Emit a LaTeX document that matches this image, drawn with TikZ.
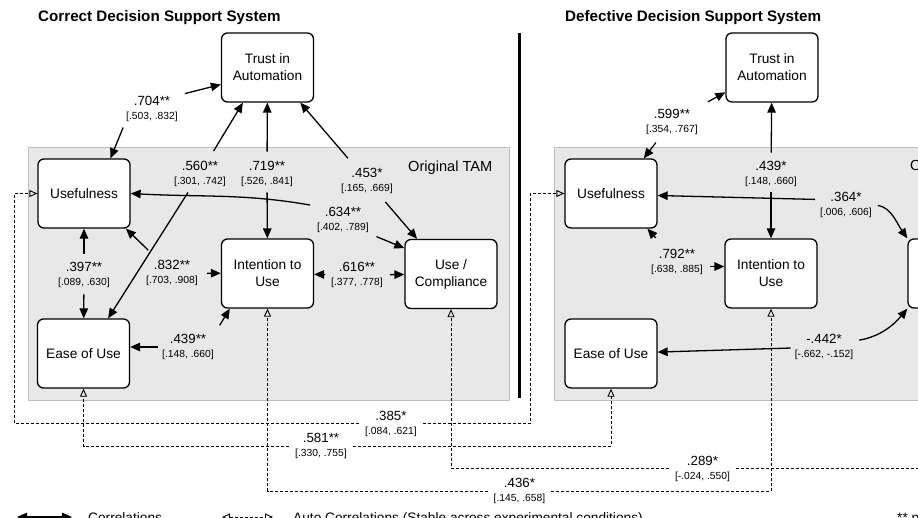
\documentclass[tikz,border=0pt]{standalone}
\usepackage{fontspec}
\setmainfont{Liberation Sans}
\usetikzlibrary{arrows.meta}

\newcommand\cval[2]{{\fontsize{13.3}{14}\selectfont #1}\\\relax #2}

\begin{document}
\begin{tikzpicture}[x=1pt,y=1pt,
  >={Triangle[length=10pt,width=8.5pt]},
  box/.style={draw, line width=1.3pt, rounded corners=6pt, fill=white, minimum width=92pt,
    minimum height=69pt, inner sep=0pt, align=center, font=\fontsize{13.7}{17}\selectfont},
  val/.style={align=center, inner sep=1pt, font=\fontsize{10.3}{14}\selectfont},
  aval/.style={val, inner xsep=6pt},
  corr/.style={line width=1.3pt, ->},
  stable/.style={line width=0.9pt, dash pattern=on 3pt off 2pt, -{Triangle[open,length=8pt,width=7pt]}},
  tam/.style={draw=black!25, line width=1pt, fill=black!9},
  ttl/.style={anchor=west, inner sep=0pt, font=\fontsize{15.2}{18}\selectfont\bfseries},
  plain/.style={anchor=west, inner sep=0pt, font=\fontsize{14.6}{18}\selectfont},
  key/.style={anchor=base west, inner sep=0pt, font=\fontsize{13.7}{17}\selectfont}]
\useasboundingbox (0,0) rectangle (918,-517);
\clip (0,0) rectangle (918,-517);

\draw[tam] (28,-147) rectangle (509,-400);
\draw[tam] (554,-147) rectangle (1100,-400);
\draw[line width=3pt] (519,-33) -- (519,-398);

\node[ttl] (lttl) at (38,-18) {Correct Decision Support System};
\node[ttl] (rttl) at (565,-18) {Defective Decision Support System};
\node[plain] (ltam) at (408,-168) {Original TAM};
\node[plain] (rtam) at (910,-167) {Original TAM};

\node[box] (ltrust) at (267.5,-67.5) {Trust in\\Automation};
\node[box] (lusef) at (84,-193.5) {Usefulness};
\node[box] (lease) at (83.5,-353.5) {Ease of Use};
\node[box] (lint) at (267.5,-273.5) {Intention to\\Use};
\node[box] (luse) at (451,-274) {Use /\\Compliance};

\node[box] (rtrust) at (772,-67.5) {Trust in\\Automation};
\node[box] (rusef) at (611,-193.5) {Usefulness};
\node[box] (rease) at (611,-353.5) {Ease of Use};
\node[box] (rint) at (771,-273.5) {Intention to\\Use};
\node[box] (ruse) at (954,-273.5) {Use /\\Compliance};

\node[val] (l704) at (152,-109) {\cval{.704**}{[.503, .832]}};
\node[val] (l560) at (200,-173.5) {\cval{.560**}{[.301, .742]}};
\node[val] (l719) at (267,-173.5) {\cval{.719**}{[.526, .841]}};
\node[val] (l453) at (367,-180.5) {\cval{.453*}{[.165, .669]}};
\node[val] (l634) at (343,-220) {\cval{.634**}{[.402, .789]}};
\node[val] (l397) at (84,-274.5) {\cval{.397**}{[.089, .630]}};
\node[val] (l832) at (172,-273) {\cval{.832**}{[.703, .908]}};
\node[val] (l616) at (357,-275) {\cval{.616**}{[.377, .778]}};
\node[val] (l439) at (188,-347) {\cval{.439**}{[.148, .660]}};

\node[val] (m599) at (672,-121.5) {\cval{.599**}{[.354, .767]}};
\node[val] (m439) at (771,-173.5) {\cval{.439*}{[.148, .660]}};
\node[val] (m364) at (846,-204.5) {\cval{.364*}{[.006, .606]}};
\node[val] (m792) at (677,-261.5) {\cval{.792**}{[.638, .885]}};
\node[val] (m442) at (824,-347) {\cval{-.442*}{[-.662, -.152]}};

\node[aval] (a385) at (391,-423.5) {\cval{.385*}{[.084, .621]}};
\node[aval] (a581) at (321,-446) {\cval{.581**}{[.330, .755]}};
\node[aval] (a289) at (702.5,-468.5) {\cval{.289*}{[-.024, .550]}};
\node[aval] (a436) at (519.5,-491) {\cval{.436*}{[.145, .658]}};

\draw[corr, shorten <=6pt] (l704.north east) -- (ltrust.200);
\draw[corr, shorten <=5pt] (l704.south west) -- (lusef.53);
\draw[corr, shorten <=10pt] (l560) -- (ltrust.235);
\draw[corr, shorten <=6pt] (l560) -- (lease.55);
\draw[corr, shorten <=8pt] (l719) -- (ltrust);
\draw[corr, shorten <=5pt] (l719) -- (lint);
\draw[corr, shorten <=11pt] (l453) -- (ltrust.-47);
\draw[corr, shorten <=10pt] (l453) -- (luse.134);
\draw[corr, shorten <=6pt] (l634.north west) to[out=170,in=-3] (lusef.east);
\draw[corr, shorten <=7pt] (l634.south east) -- (luse.151);
\draw[corr, shorten <=7pt] (l397) -- (lusef);
\draw[corr, shorten <=6pt] (l397) -- (lease);
\draw[corr, shorten <=13pt] (l832) -- (lusef.-40);
\draw[corr, shorten <=8pt] (l832) -- (lint);
\draw[corr, shorten <=5pt] (l616) -- (lint);
\draw[corr, shorten <=6pt] (l616) -- (luse);
\draw[corr, shorten <=3pt] (l439) -- (l439 -| lease.east);
\draw[corr, shorten <=9pt] (l439.north east) -- (lint.223);

\draw[corr, shorten <=12pt] (m599) -- (rtrust.208);
\draw[corr, shorten <=9pt] (m599) -- (rusef.47);
\draw[corr, shorten <=7pt] (m439) -- (rtrust);
\draw[corr, shorten <=5pt] (m439) -- (rint);
\draw[corr, shorten <=4pt] ([yshift=5pt]m364.west) -- ([yshift=-2pt]rusef.east);
\draw[corr, shorten <=5pt] (m364.east) to[out=-10,in=125] (ruse.north west);
\draw[corr, shorten <=13pt] (m792) -- (rusef.-44);
\draw[corr, shorten <=6pt] ([yshift=-5pt]m792.east) -- ([yshift=-5pt]m792.east -| rint.west);
\draw[corr, shorten <=3pt] (m442) -- (rease);
\draw[corr, shorten <=5pt] ([yshift=6pt]m442.east) to[out=10,in=-130] (ruse.south west);

\draw[stable] (a385.west) -| ([xshift=-23pt]lusef.west) -- (lusef.west);
\draw[stable] (a385.east) -| ([xshift=-34pt]rusef.west) -- (rusef.west);
\draw[stable] (a581.west) -| (lease.south);
\draw[stable] (a581.east) -| (rease.south);
\draw[stable] (a436.west) -| (lint.south);
\draw[stable] (a436.east) -| (rint.south);
\draw[stable] (a289.west) -| (luse.south);
\draw[stable] (a289.east) -| (ruse.south);

\coordinate (kA) at (17,-517);
\coordinate (kB) at (72,-517);
\coordinate (kC) at (222,-517);
\coordinate (kD) at (273,-517);
\draw[corr, <->] (kA) -- (kB);
\draw[stable, {Triangle[open,length=8pt,width=7pt]}-{Triangle[open,length=8pt,width=7pt]}] (kC) -- (kD);
\node[key] (kcorr) at (88,-522) {Correlations};
\node[key] (kauto) at (293,-522) {Auto Correlations (Stable across experimental conditions)};
\node[key] (ksig) at (897,-522) {** p < .01};
\end{tikzpicture}
\end{document}
